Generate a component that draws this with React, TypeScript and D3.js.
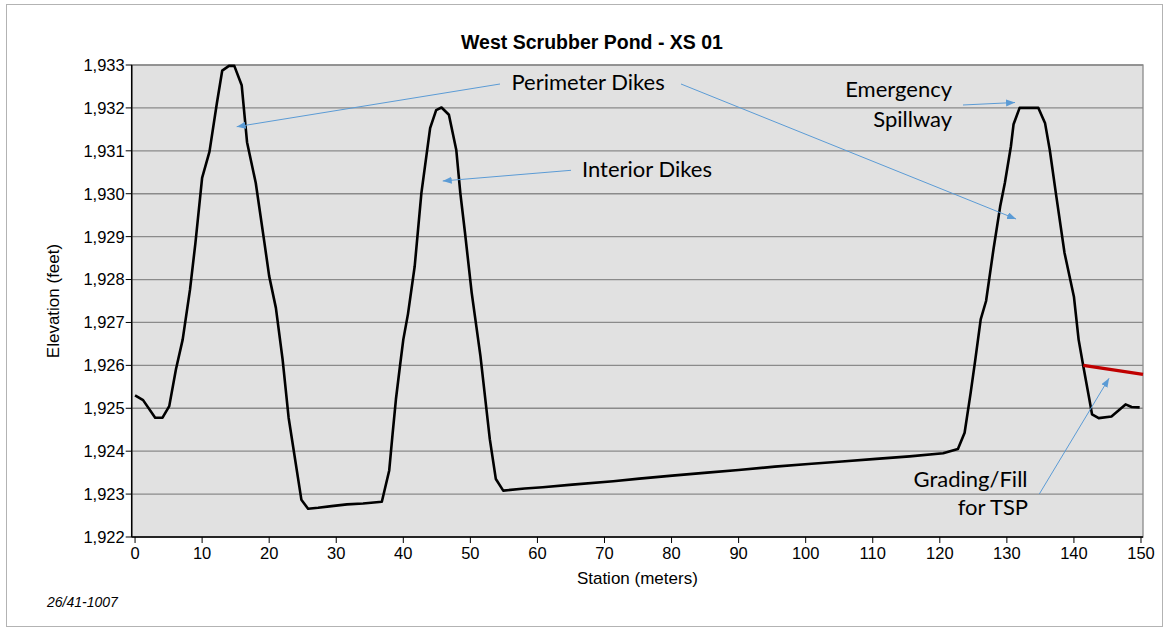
import * as d3 from "d3";

// Profile of the cross-section
const stations = [
  0.0, 1.2, 3.0, 4.1, 5.1, 6.1, 7.1, 8.2, 9.0, 10.0, 11.1, 12.2, 13.0, 14.0, 14.8,
  15.9, 16.7, 18.0, 19.3, 20.0, 21.0, 22.0, 22.9, 24.8, 25.8, 27.3, 29.3, 31.6, 34.0,
  36.8, 37.9, 38.4, 38.9, 39.5, 40.0, 40.7, 41.7, 42.7, 44.0, 44.9, 45.7, 46.8, 47.9,
  48.5, 49.2, 50.2, 51.5, 52.9, 53.8, 54.9, 58.1, 60.8, 65.2, 71.3, 75.2, 80.1, 85.3,
  90.0, 95.4, 100.4, 105.4, 110.5, 115.5, 120.5, 122.7, 123.7, 124.6, 125.3, 126.1,
  126.9, 128.0, 129.0, 129.7, 130.6, 131.0, 131.9, 134.7, 135.7, 136.4, 137.3, 138.6,
  140.0, 140.7, 141.4, 142.3, 142.7, 143.7, 145.6, 146.6, 147.7, 148.6, 149.8,
];
const elevations = [
  1925.3, 1925.19, 1924.78, 1924.78, 1925.05, 1925.91, 1926.6, 1927.77, 1928.85, 1930.37,
  1930.98, 1932.11, 1932.87, 1932.98, 1932.98, 1932.53, 1931.2, 1930.25, 1928.85, 1928.08,
  1927.34, 1926.14, 1924.78, 1922.87, 1922.66, 1922.68, 1922.72, 1922.76, 1922.78, 1922.82,
  1923.55, 1924.4, 1925.21, 1925.98, 1926.6, 1927.2, 1928.31, 1930.02, 1931.53, 1931.95,
  1932.01, 1931.84, 1931.02, 1930.02, 1929.09, 1927.69, 1926.22, 1924.28, 1923.35, 1923.08,
  1923.13, 1923.16, 1923.22, 1923.3, 1923.36, 1923.43, 1923.5, 1923.56, 1923.64, 1923.7,
  1923.76, 1923.82, 1923.88, 1923.95, 1924.05, 1924.43, 1925.36, 1926.14, 1927.07, 1927.5,
  1928.7, 1929.7, 1930.25, 1931.1, 1931.62, 1932.0, 1932.0, 1931.64, 1931.02, 1930.02,
  1928.62, 1927.6, 1926.6, 1925.98, 1925.21, 1924.86, 1924.77, 1924.81, 1924.94, 1925.09,
  1925.03, 1925.02,
];

// Grading/fill line (red)
const fillStations = [141.4, 150.3];
const fillElevations = [1926.0, 1925.79];

const xTicks = [0, 10, 20, 30, 40, 50, 60, 70, 80, 90, 100, 110, 120, 130, 140, 150];
const yTicks = [1922, 1923, 1924, 1925, 1926, 1927, 1928, 1929, 1930, 1931, 1932, 1933];

// Callout labels, in data units
const labelTexts = ["Perimeter Dikes", "Interior Dikes", "Emergency", "Spillway", "Grading/Fill", "for TSP"];
const labelStations = [67.55, 76.34, 121.83, 121.83, 133.08, 133.16];
const labelElevations = [1932.42, 1930.4, 1932.26, 1931.555, 1923.17, 1922.51];
const labelAnchors = ["middle", "middle", "end", "end", "end", "end"];

// Callout arrows: [fromStation, fromElev, toStation, toElev]
const arrowFrom = [
  [54.42, 1932.557],
  [81.41, 1932.557],
  [65.01, 1930.546],
  [123.46, 1932.068],
  [134.84, 1923.002],
];
const arrowTo = [
  [15.16, 1931.562],
  [131.37, 1929.411],
  [45.88, 1930.297],
  [131.22, 1932.126],
  [145.24, 1925.7],
];

const W = 1168;
const H = 632;
const plot = { left: 131.7, right: 1143, top: 65, bottom: 537 };

const App = () => {
  const x = d3.scaleLinear().domain([-0.5, 150.3]).range([plot.left, plot.right]);
  const y = d3.scaleLinear().domain([1922, 1933]).range([plot.bottom, plot.top]);

  const profile = d3
    .line<number>()
    .x((_d, i) => x(stations[i]))
    .y((d) => y(d));

  const fill = d3
    .line<number>()
    .x((_d, i) => x(fillStations[i]))
    .y((d) => y(d));

  const arial = "'Liberation Sans', Arial, sans-serif";
  const calloutFont = "Lato, 'Open Sans', sans-serif";
  const blue = "#5b9bd5";

  return (
    <svg
      width={W}
      height={H}
      style={{ position: "absolute", left: 0, top: 0, background: "#fff" }}
    >
      <defs>
        <marker
          id="head"
          markerUnits="userSpaceOnUse"
          markerWidth={10}
          markerHeight={8}
          refX={9}
          refY={3.5}
          orient="auto"
        >
          <path d="M0,0 L9,3.5 L0,7 z" fill={blue} />
        </marker>
      </defs>

      {/* chart frame */}
      <rect x={6.5} y={4.5} width={1156} height={622} fill="#fff" stroke="#b3b3b3" />

      {/* plot area */}
      <rect
        x={plot.left}
        y={plot.top}
        width={plot.right - plot.left}
        height={plot.bottom - plot.top}
        fill="#e1e1e1"
        stroke="#8a8a8a"
        strokeWidth={1.3}
      />
      {yTicks.map((t) => (
        <line
          key={t}
          x1={plot.left}
          x2={plot.right}
          y1={y(t)}
          y2={y(t)}
          stroke="#8a8a8a"
          strokeWidth={1.3}
        />
      ))}

      {/* axes */}
      <line x1={plot.left} x2={plot.left} y1={plot.top} y2={plot.bottom} stroke="#000" strokeWidth={1.5} />
      <line x1={plot.left} x2={plot.right} y1={plot.bottom} y2={plot.bottom} stroke="#000" strokeWidth={1.5} />
      {yTicks.map((t) => (
        <g key={t}>
          <line x1={plot.left - 6} x2={plot.left} y1={y(t)} y2={y(t)} stroke="#000" strokeWidth={1} />
          <text
            x={plot.left - 7}
            y={y(t)}
            dy="0.36em"
            textAnchor="end"
            fontFamily={arial}
            fontSize={16.5}
            fill="#000"
          >
            {d3.format(",")(t)}
          </text>
        </g>
      ))}
      {xTicks.map((t) => (
        <g key={t}>
          <line x1={x(t)} x2={x(t)} y1={plot.bottom} y2={plot.bottom + 6} stroke="#000" strokeWidth={1} />
          <text
            x={x(t)}
            y={plot.bottom + 22}
            textAnchor="middle"
            fontFamily={arial}
            fontSize={16.5}
            fill="#000"
          >
            {t}
          </text>
        </g>
      ))}

      {/* profile */}
      <path
        d={profile(elevations) || ""}
        fill="none"
        stroke="#000"
        strokeWidth={2.6}
        strokeLinejoin="round"
      />
      <path d={fill(fillElevations) || ""} fill="none" stroke="#c00000" strokeWidth={3.2} />

      {/* callouts */}
      {arrowFrom.map((f, i) => (
        <line
          key={i}
          x1={x(f[0])}
          y1={y(f[1])}
          x2={x(arrowTo[i][0])}
          y2={y(arrowTo[i][1])}
          stroke={blue}
          strokeWidth={1}
          markerEnd="url(#head)"
        />
      ))}
      {labelTexts.map((s, i) => (
        <text
          key={s}
          x={x(labelStations[i])}
          y={y(labelElevations[i])}
          textAnchor={labelAnchors[i]}
          fontFamily={calloutFont}
          fontSize={22}
          fill="#000"
        >
          {s}
        </text>
      ))}

      {/* titles */}
      <text
        x={592}
        y={49}
        textAnchor="middle"
        fontFamily={arial}
        fontWeight="bold"
        fontSize={19.5}
        fill="#000"
      >
        West Scrubber Pond - XS 01
      </text>
      <text
        x={(plot.left + plot.right) / 2}
        y={584}
        textAnchor="middle"
        fontFamily={arial}
        fontSize={17}
        fill="#000"
      >
        Station (meters)
      </text>
      <text
        transform={`translate(59,${(plot.top + plot.bottom) / 2}) rotate(-90)`}
        textAnchor="middle"
        fontFamily={arial}
        fontSize={17}
        fill="#000"
      >
        Elevation (feet)
      </text>
      <text x={47} y={607} fontFamily={arial} fontStyle="italic" fontSize={14} fill="#000">
        26/41-1007
      </text>
    </svg>
  );
};

export default App;
